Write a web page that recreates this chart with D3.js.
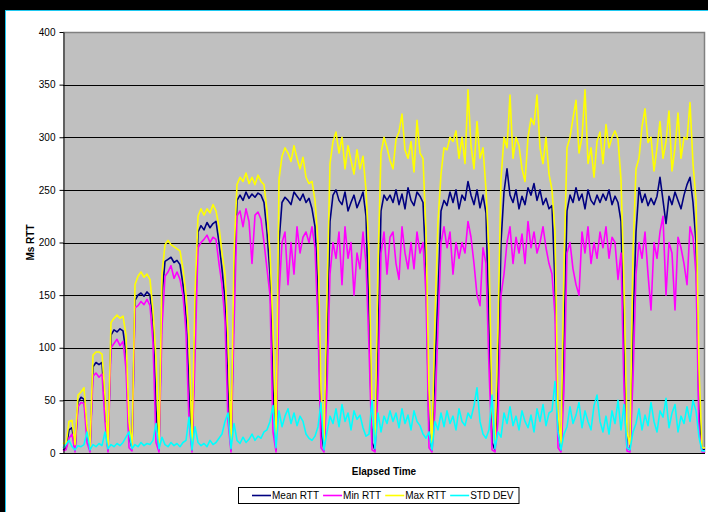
<!DOCTYPE html>
<html><head><meta charset="utf-8">
<script src="https://cdn.jsdelivr.net/npm/d3@7"></script>
<style>html,body{margin:0;padding:0;background:#000;overflow:hidden}svg{display:block}</style>
</head><body><svg id="c" width="708" height="512"></svg>
<script>
const seriesNames = ["Mean RTT", "Min RTT", "Max RTT", "STD DEV"];
const seriesColors = ["#000080", "#FF00FF", "#FFFF00", "#00FFFF"];
const yTicks = [0, 50, 100, 150, 200, 250, 300, 350, 400];
const yTitle = "Ms RTT";
const xTitle = "Elapsed Time";

const meanRTT = [3,4,22,24,3,48,53,51,20,3,82,86,84,86,40,3,112,117,115,118,116,95,15,5,145,150,152,149,153,150,125,40,3,150,182,184,186,181,183,179,160,130,60,3,120,210,216,212,219,214,218,220,200,175,145,60,3,150,240,245,240,248,242,246,243,247,245,238,210,170,60,3,200,238,243,240,236,248,244,240,246,238,242,232,215,150,20,3,100,220,245,250,240,236,248,230,238,245,233,240,248,225,130,10,3,100,230,245,240,245,238,250,236,246,232,252,240,235,248,244,238,175,20,3,80,150,230,240,235,248,238,250,232,245,240,258,245,236,250,233,245,228,120,10,3,60,200,248,270,245,238,250,232,244,236,252,245,256,240,250,236,242,232,235,160,20,3,110,230,245,238,252,240,246,232,250,240,236,245,238,246,240,250,236,244,238,220,100,5,3,120,210,252,238,246,235,242,236,244,262,240,218,244,236,248,240,232,245,255,262,238,200,40,3,3];
const minRTT = [2,3,14,18,1,44,48,47,10,1,73,76,72,75,30,1,100,104,108,102,106,80,5,2,138,140,144,141,146,140,105,10,1,120,168,172,178,166,172,165,150,115,30,1,90,195,200,203,207,200,205,203,180,160,125,30,1,120,225,230,215,232,220,180,226,229,222,200,175,150,20,1,150,200,210,160,200,170,215,190,205,210,200,215,195,120,5,1,60,170,200,185,210,160,215,185,200,150,190,175,210,180,100,3,1,60,190,210,170,205,210,180,165,215,190,175,200,175,210,190,200,150,5,1,40,120,200,215,195,210,170,200,185,200,190,220,205,180,150,140,195,180,80,3,1,30,150,170,200,215,180,205,190,208,180,220,195,210,190,200,215,195,180,170,130,5,1,60,190,200,175,160,150,210,190,215,180,200,185,210,195,215,185,205,200,165,190,60,2,1,70,170,200,185,210,170,136,200,185,210,225,150,200,190,136,205,195,180,160,215,205,170,20,1,1];
const maxRTT = [10,8,30,31,8,55,58,62,25,6,93,96,96,94,55,5,124,128,131,128,130,112,30,6,160,168,172,167,170,165,135,90,5,170,198,202,198,196,194,192,175,150,110,8,150,225,232,226,232,228,236,230,215,190,170,110,8,190,255,262,258,266,256,262,255,264,258,255,230,190,120,10,260,282,290,285,277,292,280,270,281,262,256,258,240,200,60,8,150,275,296,305,285,300,270,292,278,265,288,270,282,250,190,40,10,180,285,300,290,278,270,298,305,322,288,280,296,267,316,285,280,210,60,8,130,220,265,290,288,300,296,306,280,300,275,345,292,270,315,280,290,250,190,40,8,120,260,300,290,340,280,300,292,270,258,300,318,312,340,290,275,300,265,250,210,40,8,180,290,300,318,335,285,300,345,275,290,262,296,305,275,312,290,300,306,298,260,160,20,8,190,270,280,310,327,295,300,268,290,315,280,296,325,268,290,323,280,300,298,333,275,240,80,5,5];
const stdDev = [5,8,12,6,3,7,6,8,20,3,8,6,9,7,20,4,8,6,9,7,10,15,20,4,8,6,10,7,9,8,12,28,4,15,8,6,10,7,9,6,10,12,34,3,25,10,7,9,6,12,8,10,14,18,30,38,4,28,12,9,15,10,13,18,12,16,14,20,22,30,45,5,40,25,35,42,28,38,26,35,30,18,14,12,16,25,48,3,20,35,28,42,25,46,30,38,22,40,32,36,24,16,18,50,4,38,20,35,28,40,30,38,24,42,28,36,22,40,30,26,18,14,20,3,30,22,38,25,40,28,35,22,42,30,26,38,33,45,62,30,18,14,22,55,4,20,15,38,28,44,26,35,22,40,30,24,36,20,42,30,46,26,38,40,68,20,3,18,25,44,28,36,48,24,40,30,22,45,55,30,20,35,18,40,28,50,22,46,5,3,20,28,42,22,36,26,48,30,20,40,34,52,24,38,46,20,35,28,44,30,50,40,15,2,2];

const series = [meanRTT, minRTT, maxRTT, stdDev];
const samples = d3.range(meanRTT.length);

const W = 708, H = 512;
const plot = {left: 63, right: 705, top: 32, bottom: 453};
const svg = d3.select("#c");
const font = "'Liberation Sans', Arial, sans-serif";

svg.append("rect").attr("width", W).attr("height", H).attr("fill", "#000");
svg.append("rect").attr("x", 5).attr("y", 10).attr("width", W - 5).attr("height", H - 10).attr("fill", "#fff");
svg.append("line").attr("x1", 5).attr("x2", W).attr("y1", 10.5).attr("y2", 10.5).attr("stroke", "#1ec8f0").attr("stroke-width", 1);
svg.append("line").attr("x1", 5.5).attr("x2", 5.5).attr("y1", 10).attr("y2", H).attr("stroke", "#1ec8f0").attr("stroke-width", 1);

const x = d3.scaleLinear().domain([0, samples.length - 1]).range([plot.left, plot.right]);
const y = d3.scaleLinear().domain([0, 400]).range([plot.bottom, plot.top]);
const crisp = v => Math.round(y(v)) + 0.5;

svg.append("rect").attr("x", plot.left).attr("y", plot.top)
  .attr("width", plot.right - plot.left).attr("height", plot.bottom - plot.top).attr("fill", "#C0C0C0");

svg.append("g").selectAll("line").data(yTicks.filter(t => t > 0 && t < 400)).join("line")
  .attr("x1", plot.left).attr("x2", plot.right)
  .attr("y1", d => crisp(d)).attr("y2", d => crisp(d))
  .attr("stroke", "#000").attr("stroke-width", 1);

// plot border top/right
svg.append("path")
  .attr("d", `M${plot.left},${plot.top + 0.5}H${plot.right - 0.5}V${plot.bottom}`)
  .attr("fill", "none").attr("stroke", "#808080").attr("stroke-width", 1.5);

const line = d3.line().x((d, i) => x(samples[i])).y(d => y(d));
series.forEach((s, k) => {
  svg.append("path").datum(s).attr("d", line)
    .attr("fill", "none").attr("stroke", seriesColors[k])
    .attr("stroke-width", 1.6).attr("stroke-linejoin", "round");
});

// y axis
const yAxis = d3.axisLeft(y).tickValues(yTicks).tickSize(4).tickSizeOuter(0).tickPadding(4).tickFormat(d3.format("d"));
const gy = svg.append("g").attr("transform", `translate(${plot.left + 0.5},0)`).call(yAxis);
gy.select(".domain").attr("stroke", "#000");
gy.selectAll(".tick line").attr("stroke", "#000");
gy.selectAll(".tick text").attr("font-family", font).attr("font-size", 10).attr("fill", "#000");

// x axis baseline
svg.append("line").attr("x1", plot.left).attr("x2", plot.right)
  .attr("y1", plot.bottom + 0.5).attr("y2", plot.bottom + 0.5).attr("stroke", "#000");

// titles
svg.append("text").attr("transform", `translate(34,${(plot.top + plot.bottom) / 2}) rotate(-90)`)
  .attr("text-anchor", "middle").attr("font-family", font).attr("font-size", 10).attr("font-weight", "bold")
  .text(yTitle);
svg.append("text").attr("x", (plot.left + plot.right) / 2).attr("y", 475)
  .attr("text-anchor", "middle").attr("font-family", font).attr("font-size", 10).attr("font-weight", "bold")
  .text(xTitle);

// legend
const lg = svg.append("g");
const box = lg.append("rect").attr("fill", "#fff").attr("stroke", "#000").attr("stroke-width", 1);
let cx = 252;
const ly = 495;
seriesNames.forEach((name, k) => {
  lg.append("line").attr("x1", cx).attr("x2", cx + 19).attr("y1", ly + 0.5).attr("y2", ly + 0.5)
    .attr("stroke", seriesColors[k]).attr("stroke-width", 1.6);
  const t = lg.append("text").attr("x", cx + 20).attr("y", ly + 4)
    .attr("font-family", font).attr("font-size", 10).attr("fill", "#000").text(name);
  const w = t.node().getComputedTextLength();
  cx += 20 + w + 4;
});
box.attr("x", 238.5).attr("y", 487.5).attr("width", cx - 238 + 1).attr("height", 16);
</script></body></html>
